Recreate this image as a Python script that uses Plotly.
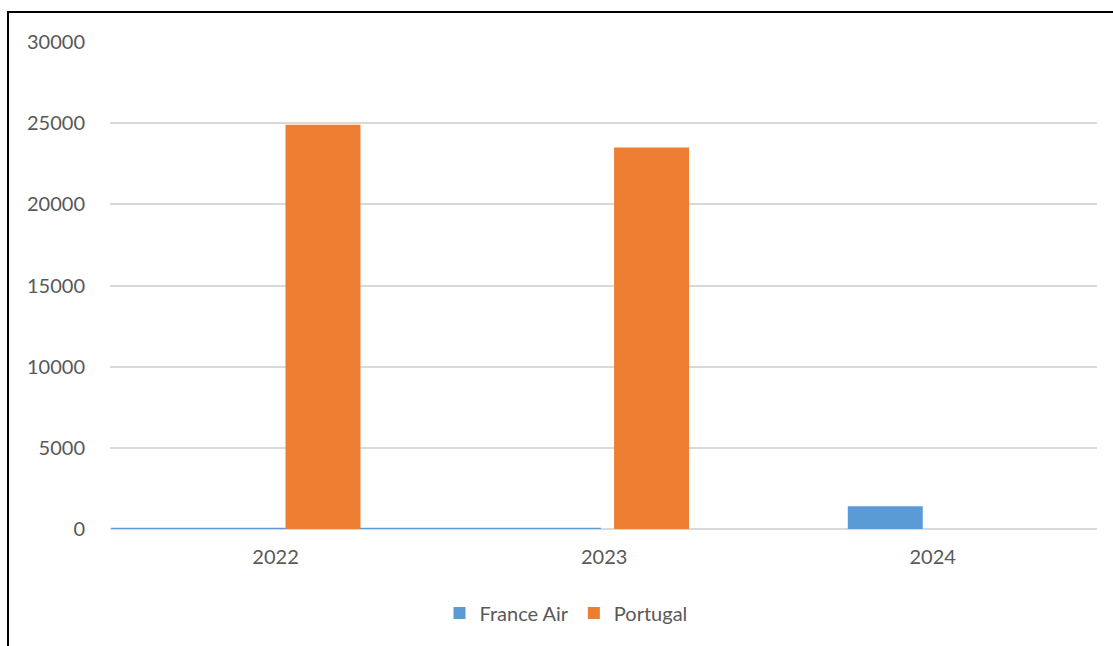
import plotly.graph_objects as go

# Yearly totals per destination
years = ["2022", "2023", "2024"]
france_air = [0, 0, 1400]
portugal = [24900, 23500, 0]

BLUE = "#5b9bd5"
ORANGE = "#ed7d31"
GRID = "#d9d9d9"
TEXT = "#595959"
FONT = "Lato, 'Open Sans', sans-serif"

fig = go.Figure()
fig.add_trace(go.Bar(name="France Air", x=years, y=france_air, marker_color=BLUE,
                     marker_line_width=0))
fig.add_trace(go.Bar(name="Portugal", x=years, y=portugal, marker_color=ORANGE,
                     marker_line_width=0))

W, H = 1113, 646
L, R, T, B = 110, 16, 42, 117
pw, ph = W - L - R, H - T - B


def px_x(x):
    return (x - L) / pw


def px_y(y):
    return (H - B - y) / ph


fig.update_layout(
    width=W, height=H,
    margin=dict(l=L, r=R, t=T, b=B),
    paper_bgcolor="white", plot_bgcolor="white",
    font=dict(family=FONT, size=20, color=TEXT),
    barmode="group", bargap=0.4225, bargroupgap=0.21,
    showlegend=True,
    legend=dict(orientation="h", x=px_x(566), xanchor="center",
                y=px_y(613), yanchor="middle",
                font=dict(size=20, color=TEXT), itemwidth=30,
                bgcolor="rgba(0,0,0,0)"),
    xaxis=dict(type="category", showgrid=False, showline=False, ticks="",
               tickfont=dict(size=20, color=TEXT), ticklabelstandoff=14),
    yaxis=dict(range=[0, 30000], dtick=5000, showgrid=True, gridcolor=GRID,
               gridwidth=1.6, zeroline=True, zerolinecolor=GRID, zerolinewidth=2,
               showline=False, ticks="", tickfont=dict(size=20, color=TEXT),
               ticklabelstandoff=24, tickformat="d"),
    shapes=[
        # baseline stroke of the France Air series across the first two years
        dict(type="line", xref="x", yref="y", x0=-0.5, x1=0.99, y0=0, y1=0,
             line=dict(color=BLUE, width=2.5), layer="between"),
        # outer chart frame
        dict(type="rect", xref="paper", yref="paper",
             x0=px_x(8), x1=px_x(1130), y0=px_y(12), y1=px_y(660),
             line=dict(color="black", width=2), fillcolor="rgba(0,0,0,0)",
             layer="above"),
    ],
)

fig.write_html("out.html")
